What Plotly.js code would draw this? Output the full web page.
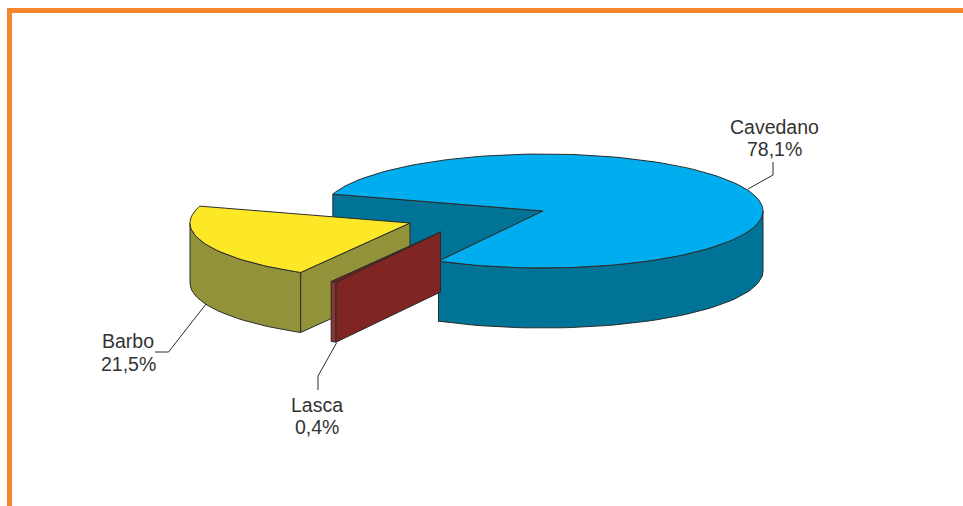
<!DOCTYPE html>
<html>
<head>
<meta charset="utf-8">
<script src="https://cdn.plot.ly/plotly-3.0.1.min.js"></script>
<style>html,body{margin:0;padding:0;background:#fff}#c{width:963px;height:506px}</style>
</head>
<body>
<div id="c"></div>
<script>
// Data
const categories = ['Cavedano', 'Lasca', 'Barbo'];
const shares = [78.1, 0.4, 21.5];

// Styles
const topColors = ['#00adee', '#7a1f1f', '#fde827'];
const sideColors = ['#007396', '#7f2524', '#919239'];
const rimColors = ['#007396', '#8a3435', '#919239'];
const edgeColor = '#2b2b2b';
const frameColor = '#f5862e';
const textColor = '#333333';

// Projection of the 3D pie, in plot units
const radiusX = 220, radiusY = 57, depth = 60;
const startDeg = -72.8;
const pieCentres = [[543, 211], [440.5, 232], [410, 223]];   // exploded slice apexes

const rim = (c, deg, dz) => {
  const a = deg * Math.PI / 180;
  return [c[0] + radiusX * Math.sin(a), c[1] - radiusY * Math.cos(a) + (dz || 0)];
};
const arc = (c, from, to, dz) => {
  const n = Math.max(2, Math.ceil(Math.abs(to - from) / 2));
  const out = [];
  for (let i = 0; i <= n; i++) out.push(rim(c, from + (to - from) * i / n, dz));
  return out;
};
const drop = (p) => [p[0], p[1] + depth];
const polygon = (pts, fill, name) => ({
  type: 'scatter', mode: 'lines', fill: 'toself', fillcolor: fill, name: name,
  x: pts.map(p => p[0]).concat(pts[0][0]),
  y: pts.map(p => p[1]).concat(pts[0][1]),
  line: {color: edgeColor, width: 1, shape: 'linear'},
  hoverinfo: 'name', showlegend: false
});

let cursor = startDeg;
const spans = shares.map(s => { const from = cursor; cursor += s * 3.6; return [from, cursor]; });

const traces = [];
[0, 2, 1].forEach(i => {
  const c = pieCentres[i], from = spans[i][0], to = spans[i][1];
  const name = categories[i];
  if (i === 0) {
    // the cut wall that shows behind the exploded slices
    const r0 = rim(c, from), r1 = rim(c, to);
    traces.push(polygon([r0, c, r1, drop(r1), drop(c), drop(r0)], sideColors[i], name));
  }
  // outer side: only the part of the rim on the viewer's half
  const a = Math.max(from, 90), b = Math.min(to, 270);
  if (b > a) {
    const upper = arc(c, a, b), lower = arc(c, b, a, depth);
    traces.push(polygon(upper.concat(lower), rimColors[i], name));
  }
  if (i !== 0) {
    // front cut face from apex to the rim
    const r = rim(c, from);
    traces.push(polygon([c, r, drop(r), drop(c)], sideColors[i], name));
  }
  traces.push(polygon([c].concat(arc(c, from, to)), topColors[i], name));
});

// Labels
const percentLabels = shares.map(s => s.toFixed(1).replace('.', ',') + '%');
const labelCentres = [[774, 127, 149], [317, 405, 427], [128, 341, 364]];
const annotations = [];
categories.forEach((cat, i) => {
  const l = labelCentres[i];
  [[cat, l[1]], [percentLabels[i], l[2]]].forEach(t => annotations.push({
    x: l[0], y: t[1], xref: 'x', yref: 'y', text: t[0], showarrow: false,
    xanchor: 'center', yanchor: 'middle',
    font: {family: '"Liberation Sans", Arial, sans-serif', size: 19.5, color: textColor}
  }));
});

const leader = (path) => ({type: 'path', xref: 'x', yref: 'y', path: path,
  line: {color: edgeColor, width: 1}});
const band = (x0, y0, x1, y1) => ({type: 'rect', xref: 'x', yref: 'y', x0, y0, x1, y1,
  fillcolor: frameColor, line: {width: 0}, layer: 'below'});

const layout = {
  width: 963, height: 506,
  margin: {l: 0, r: 0, t: 0, b: 0},
  paper_bgcolor: '#ffffff', plot_bgcolor: '#ffffff',
  showlegend: false,
  xaxis: {range: [0, 963], visible: false, fixedrange: true},
  yaxis: {range: [506, 0], visible: false, fixedrange: true},
  shapes: [
    band(7, 8, 963, 13), band(7, 8, 12, 506),
    leader('M748,189 L773,175 L773,162'),
    leader('M206,304 L168.5,352 L155,352'),
    leader('M336.5,343 L318,376 L318,390')
  ],
  annotations: annotations
};

Plotly.newPlot('c', traces, layout, {displayModeBar: false, responsive: false});
</script>
</body>
</html>
